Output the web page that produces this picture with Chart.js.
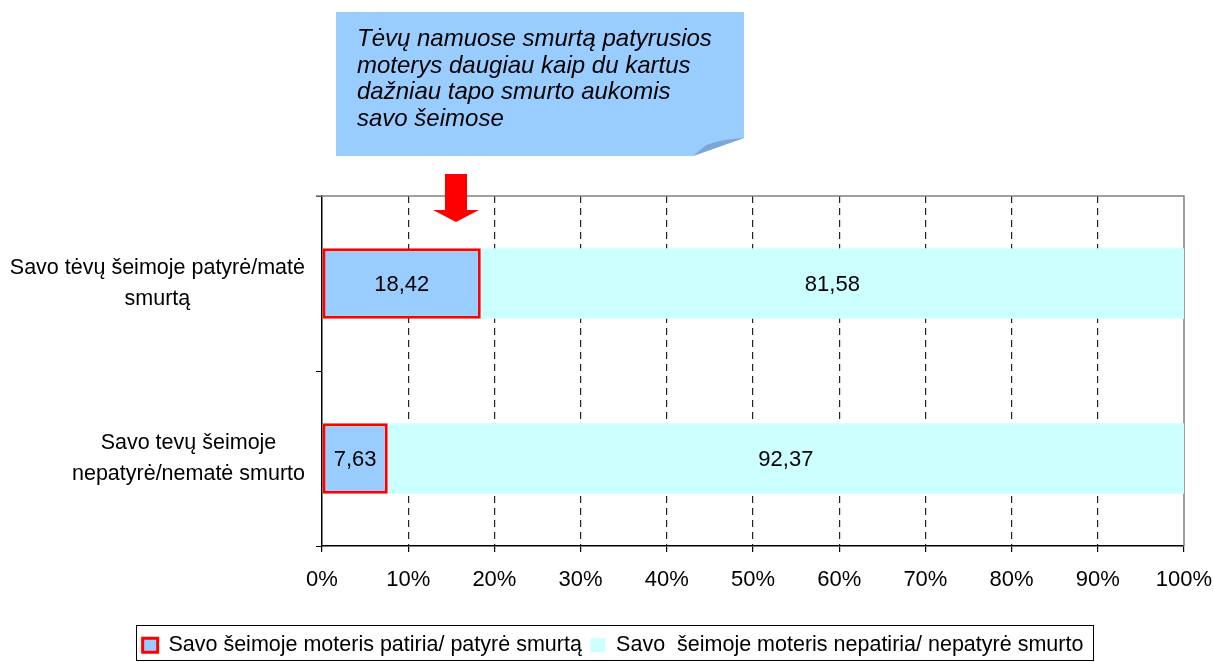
<!DOCTYPE html>
<html>
<head>
<meta charset="utf-8">
<script src="https://cdn.jsdelivr.net/npm/chart.js@4/dist/chart.umd.min.js"></script>
<style>
html,body{margin:0;padding:0;background:#fff;}
#wrap{position:relative;width:1214px;height:662px;}
</style>
</head>
<body>
<div id="wrap"><canvas id="c" width="1214" height="662"></canvas></div>
<script>
const categories = [["Savo tėvų šeimoje patyrė/matė", "smurtą"], ["Savo tevų šeimoje", "nepatyrė/nematė smurto"]];
const seriesNames = ["Savo šeimoje moteris patiria/ patyrė smurtą", "Savo  šeimoje moteris nepatiria/ nepatyrė smurto"];
const experiencedValues = [18.42, 7.63];
const notExperiencedValues = [81.58, 92.37];
const xTickValues = [0, 10, 20, 30, 40, 50, 60, 70, 80, 90, 100];
const calloutLines = ["Tėvų namuose smurtą patyrusios", "moterys daugiau kaip du kartus", "dažniau tapo smurto aukomis", "savo šeimose"];

const FONT = "'Liberation Sans', Arial, sans-serif";
const LEGEND_SHIFT_X = 21;
const LEGEND_SHIFT_Y = 4;

const calloutPlugin = {
  id: 'callout',
  afterDraw(chart) {
    const ctx = chart.ctx;
    ctx.save();
    ctx.fillStyle = '#99ccff';
    ctx.beginPath();
    ctx.moveTo(336, 12); ctx.lineTo(744, 12); ctx.lineTo(744, 138);
    ctx.lineTo(693, 156); ctx.lineTo(336, 156); ctx.closePath();
    ctx.fill();
    ctx.fillStyle = '#7ba6d6';
    ctx.beginPath();
    ctx.moveTo(693, 156); ctx.lineTo(744, 138); ctx.quadraticCurveTo(716, 140, 705, 146); ctx.closePath();
    ctx.fill();
    ctx.fillStyle = '#000';
    ctx.font = "italic 24px " + FONT;
    ctx.textBaseline = 'alphabetic';
    ctx.textAlign = 'left';
    calloutLines.forEach((l, i) => ctx.fillText(l, 357, 46 + i * 26.7));
    ctx.fillStyle = '#ff0000';
    ctx.beginPath();
    ctx.moveTo(445, 174); ctx.lineTo(467, 174); ctx.lineTo(467, 210); ctx.lineTo(479, 210);
    ctx.lineTo(456, 222); ctx.lineTo(433, 210); ctx.lineTo(445, 210); ctx.closePath();
    ctx.fill();
    ctx.restore();
  }
};

const layoutFixPlugin = {
  id: 'layoutFix',
  afterLayout(chart) {
    const lg = chart.legend;
    if (lg) {
      lg.left += LEGEND_SHIFT_X; lg.right += LEGEND_SHIFT_X;
      lg.top += LEGEND_SHIFT_Y; lg.bottom += LEGEND_SHIFT_Y;
      (lg.legendHitBoxes || []).forEach(h => { h.left += LEGEND_SHIFT_X; h.top += LEGEND_SHIFT_Y; });
    }
  },
  beforeDraw(chart) {
    const s = chart.scales.y;
    const items = s.getLabelItems(chart.chartArea);
    const ctx = chart.ctx;
    ctx.save();
    items.forEach(it => {
      ctx.font = it.font.string;
      const lines = Array.isArray(it.label) ? it.label : [it.label];
      const w = Math.max(...lines.map(l => ctx.measureText(l).width));
      it.options.textAlign = 'center';
      it.options.translation[0] = s.right - 17 - w / 2;
    });
    ctx.restore();
  }
};

const framePlugin = {
  id: 'frame',
  beforeDatasetsDraw(chart) {
    const {ctx, chartArea: a} = chart;
    ctx.save();
    ctx.strokeStyle = '#808080';
    ctx.lineWidth = 1.5;
    ctx.beginPath();
    ctx.moveTo(a.left - 6, a.top); ctx.lineTo(a.right, a.top); ctx.lineTo(a.right, a.bottom);
    ctx.stroke();
    ctx.restore();
  },
  afterDraw(chart) {
    const lg = chart.legend;
    if (!lg || !lg.legendHitBoxes || !lg.legendHitBoxes.length) return;
    const hb = lg.legendHitBoxes;
    const l = hb[0].left - 7;
    const last = hb[hb.length - 1];
    const r = last.left + last.width + 9;
    const ctx = chart.ctx;
    ctx.save();
    ctx.strokeStyle = '#000';
    ctx.lineWidth = 1;
    ctx.strokeRect(Math.round(l) + 0.5, 625.5, Math.round(r - l), 35);
    ctx.restore();
  }
};

const labelPlugin = {
  id: 'vals',
  afterDatasetsDraw(chart) {
    const ctx = chart.ctx;
    ctx.save();
    ctx.font = "22px " + FONT;
    ctx.fillStyle = '#000';
    ctx.textAlign = 'center';
    ctx.textBaseline = 'middle';
    chart.data.datasets.forEach((ds, di) => {
      const meta = chart.getDatasetMeta(di);
      meta.data.forEach((el, i) => {
        const p = el.getCenterPoint();
        ctx.fillText(ds.data[i].toFixed(2).replace('.', ','), p.x, p.y + 1);
      });
    });
    ctx.restore();
  }
};

new Chart(document.getElementById('c'), {
  type: 'bar',
  data: {
    labels: categories,
    datasets: [
      {label: seriesNames[0], data: experiencedValues, backgroundColor: '#99ccff', borderColor: '#ff0000', borderWidth: 3, borderSkipped: false},
      {label: seriesNames[1], data: notExperiencedValues, backgroundColor: '#ccffff', borderWidth: 0}
    ]
  },
  options: {
    indexAxis: 'y',
    responsive: false,
    animation: false,
    devicePixelRatio: 1,
    layout: {padding: {left: 0, right: 30, top: 196, bottom: 0}},
    datasets: {bar: {barPercentage: 0.404, categoryPercentage: 1}},
    scales: {
      x: {
        stacked: true, min: 0, max: 100,
        afterBuildTicks(s) { s.ticks = xTickValues.map(v => ({value: v})); },
        afterFit(s) { s.height = 76; s.paddingRight = 0; s.paddingLeft = 0; },
        ticks: {callback: v => v + '%', color: '#000', font: {family: FONT, size: 22}, padding: 15, maxRotation: 0, autoSkip: false},
        grid: {
          color: c => (c.tick && (c.tick.value === 0 || c.tick.value === 100)) ? 'rgba(0,0,0,0)' : '#222',
          tickColor: '#000', tickLength: 6, lineWidth: 1.2
        },
        border: {display: true, color: '#000', width: 1.5, dash: [7, 5]}
      },
      y: {
        stacked: true,
        afterFit(s) { s.width = 322; },
        ticks: {color: '#000', font: {family: FONT, size: 21.5, lineHeight: 1.45}, padding: 11, crossAlign: 'center'},
        grid: {offset: true, drawOnChartArea: false, tickColor: '#000', tickLength: 6},
        border: {display: true, color: '#000', width: 1.5}
      }
    },
    plugins: {
      legend: {
        position: 'bottom',
        labels: {font: {family: FONT, size: 21.5}, color: '#000', boxWidth: 15, boxHeight: 14, padding: 8.5}
      },
      tooltip: {enabled: false}
    }
  },
  plugins: [layoutFixPlugin, calloutPlugin, framePlugin, labelPlugin]
});
</script>
</body>
</html>
